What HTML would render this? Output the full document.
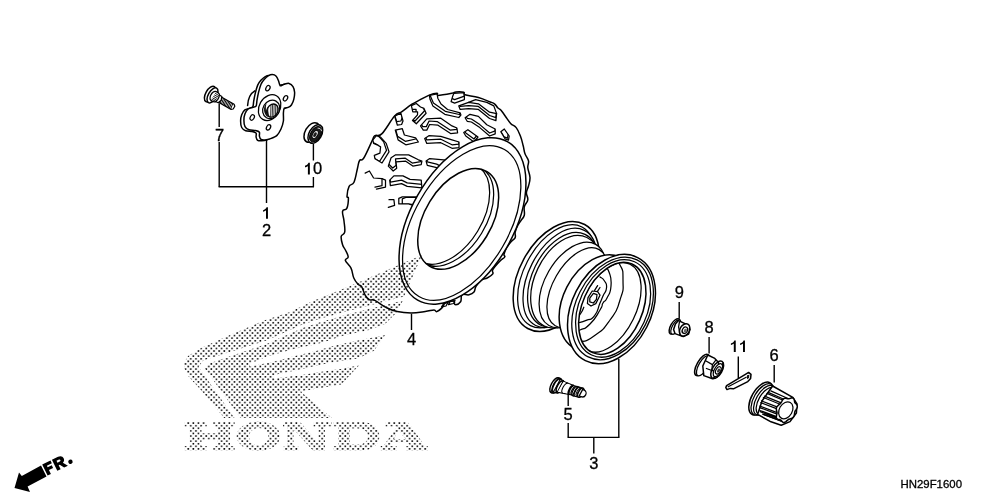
<!DOCTYPE html>
<html><head><meta charset="utf-8"><title>Front Wheel</title>
<style>
html,body{margin:0;padding:0;background:#fff;}
body{width:1000px;height:500px;overflow:hidden;font-family:"Liberation Sans",sans-serif;}
svg{display:block}
.s{fill:none;stroke:#000;stroke-width:1.5;stroke-linejoin:round;stroke-linecap:round}
.w{fill:#fff;stroke:#000;stroke-width:1.5;stroke-linejoin:round;stroke-linecap:round}
.t{fill:none;stroke:#000;stroke-width:1.25;stroke-linejoin:round;stroke-linecap:round}
.wt{fill:#fff;stroke:#000;stroke-width:1.25;stroke-linejoin:round;stroke-linecap:round}
.h{fill:none;stroke:#000;stroke-width:0.8;stroke-linejoin:round;stroke-linecap:round}
.k{fill:#111;stroke:#000;stroke-width:1}
.ld{fill:none;stroke:#000;stroke-width:1.4}
text{font-family:"Liberation Sans",sans-serif;fill:#000}
.n{font-size:16.5px;text-anchor:middle;stroke:#000;stroke-width:0.3px}
</style></head><body>
<svg width="1000" height="500" viewBox="0 0 1000 500" style="will-change:transform;transform:translateZ(0)">
<defs>
<pattern id="dots" width="5.15" height="5.15" patternUnits="userSpaceOnUse">
<circle cx="0.25" cy="3.4" r="0.88"/><circle cx="5.4" cy="3.4" r="0.88"/><circle cx="2.83" cy="0.83" r="0.88"/><circle cx="2.83" cy="5.98" r="0.88"/>
</pattern>
</defs>
<rect width="1000" height="500" fill="#fff"/>

<g id="tire">
<path class="w" d="M372.2,140.6 C374.4,136.1 373.0,137.1 375.0,135.7 C377.0,134.3 378.1,137.5 382.0,133.6 C385.9,129.7 390.7,120.4 394.6,116.1 C398.5,111.8 398.4,114.1 401.6,111.9 C404.8,109.7 407.7,107.1 410.5,105.2 C413.3,103.3 411.8,104.4 415.4,102.4 C419.0,100.4 424.4,97.2 428.7,95.4 C433.0,93.6 435.2,93.3 437.0,93.3 C438.8,93.3 434.8,95.4 437.8,95.4 C440.8,95.4 448.2,94.0 451.8,93.3 C455.4,92.6 453.6,92.1 456.0,91.9 C458.4,91.7 461.9,91.7 463.7,92.3 C465.5,92.9 462.1,93.7 465.0,94.7 C467.9,95.7 473.5,96.1 478.4,97.5 C483.3,98.9 486.4,100.4 489.6,101.7 C492.8,103.0 492.8,102.5 494.5,103.8 C496.2,105.1 496.7,106.8 498.0,108.0 C499.3,109.2 499.4,108.5 500.8,110.0 C502.2,111.5 503.0,113.0 505.0,115.7 C507.0,118.4 508.4,121.0 510.6,123.4 C512.8,125.8 514.2,125.1 516.2,127.6 C518.2,130.1 519.0,132.4 520.4,136.0 C521.8,139.6 522.3,142.2 523.2,145.8 C524.1,149.4 523.9,150.8 525.0,153.8 C526.1,156.8 527.9,158.0 528.5,160.8 C529.1,163.6 527.5,164.4 527.8,167.8 C528.1,171.2 529.9,174.0 530.0,177.6 C530.1,181.2 529.2,183.0 528.5,186.0 C527.8,189.0 526.5,190.0 526.4,192.8 C526.3,195.6 528.2,197.0 527.8,199.8 C527.4,202.6 525.0,203.7 524.3,206.8 C523.6,209.9 525.0,212.4 524.3,215.2 C523.6,218.0 522.1,218.8 520.8,220.8 C519.5,222.8 519.1,222.8 518.0,225.0 C516.9,227.2 515.8,229.5 515.2,232.0 C514.6,234.5 516.0,235.6 515.2,237.6 C514.4,239.6 512.7,239.8 511.0,241.8 C509.3,243.8 508.2,244.9 506.8,247.4 C505.4,249.9 504.4,252.5 504.0,254.4 C503.6,256.3 505.5,255.6 504.7,257.0 C503.9,258.4 502.2,258.7 499.8,261.2 C497.4,263.7 494.2,267.1 492.8,269.6 C491.4,272.1 493.9,272.1 492.8,273.8 C491.7,275.5 489.4,276.8 487.2,278.0 C485.0,279.2 483.8,278.3 481.6,280.0 C479.4,281.7 477.5,284.0 476.0,286.4 C474.5,288.8 475.4,290.3 474.0,292.0 C472.6,293.7 471.4,294.2 469.0,294.8 C466.6,295.4 463.7,293.4 462.0,294.8 C460.3,296.2 462.0,299.8 460.6,301.8 C459.2,303.8 456.4,304.8 455.0,304.6 C453.6,304.4 455.6,301.3 453.6,301.0 C451.6,300.7 447.4,301.9 445.2,303.2 C443.0,304.5 444.1,305.7 442.4,307.4 C440.7,309.1 438.5,311.1 436.8,311.6 C435.1,312.1 436.3,310.0 434.0,310.0 C431.7,310.0 429.8,311.0 425.2,311.6 C420.6,312.2 416.8,313.0 411.2,313.0 C405.6,313.0 402.2,312.7 397.2,311.6 C392.2,310.5 390.5,309.6 386.0,307.4 C381.5,305.2 378.2,301.9 374.8,300.4 C371.4,298.9 371.2,300.8 369.2,299.7 C367.2,298.6 366.5,297.5 365.0,294.8 C363.5,292.1 362.9,288.5 361.5,286.4 C360.1,284.3 359.5,286.0 358.0,284.3 C356.5,282.6 355.2,281.2 353.8,278.0 C352.4,274.8 352.7,271.7 351.0,268.2 C349.3,264.7 346.0,262.7 345.4,260.5 C344.8,258.3 348.2,259.1 348.2,257.0 C348.2,254.9 346.5,252.4 345.4,250.0 C344.3,247.6 343.4,247.5 342.6,244.8 C341.8,242.1 340.8,238.9 341.2,236.4 C341.6,233.9 344.1,235.3 344.7,232.2 C345.3,229.1 344.4,225.2 344.0,221.0 C343.6,216.8 342.0,213.7 342.6,211.2 C343.2,208.7 345.6,211.0 346.8,208.4 C348.0,205.8 348.4,200.7 348.4,198.3 C348.4,195.9 346.9,198.6 347.0,196.2 C347.1,193.8 347.7,189.2 349.1,186.4 C350.5,183.6 352.3,185.8 354.0,182.2 C355.7,178.6 356.4,172.5 357.5,168.2 C358.6,163.9 358.3,162.5 359.6,160.5 C360.9,158.5 361.3,162.0 363.8,158.0 C366.3,154.0 370.0,145.1 372.2,140.6Z"/>
<clipPath id="lc0"><path d="M394.6,116.1 L400.9,113.3 L403.0,121.0 L401.6,124.5 L397.4,125.2Z"/></clipPath>
<path class="wt" d="M394.6,116.1 L400.9,113.3 L403.0,121.0 L401.6,124.5 L397.4,125.2Z"/>
<g clip-path="url(#lc0)"><path class="t" d="M394.6,116.1 L400.9,113.3 L403.0,121.0 L401.6,124.5 L397.4,125.2Z" transform="translate(-0.7 -3.5)"/></g>
<clipPath id="lc1"><path d="M411.4,105.6 L416.3,103.5 L420.5,107.0 L424.0,108.4 L426.1,113.3 L416.3,123.8 L412.5,120.5 L417.5,114.8 L417.6,111.9 L412.8,111.9Z"/></clipPath>
<path class="wt" d="M411.4,105.6 L416.3,103.5 L420.5,107.0 L424.0,108.4 L426.1,113.3 L416.3,123.8 L412.5,120.5 L417.5,114.8 L417.6,111.9 L412.8,111.9Z"/>
<g clip-path="url(#lc1)"><path class="t" d="M411.4,105.6 L416.3,103.5 L420.5,107.0 L424.0,108.4 L426.1,113.3 L416.3,123.8 L412.5,120.5 L417.5,114.8 L417.6,111.9 L412.8,111.9Z" transform="translate(-1.5 -2.5)"/></g>
<clipPath id="lc2"><path d="M395.3,130.1 L402.3,128.7 L404.4,135.0 L415.6,137.8 L418.4,142.0 L405.8,144.8 L398.1,139.9Z"/></clipPath>
<path class="wt" d="M395.3,130.1 L402.3,128.7 L404.4,135.0 L415.6,137.8 L418.4,142.0 L405.8,144.8 L398.1,139.9Z"/>
<g clip-path="url(#lc2)"><path class="t" d="M395.3,130.1 L402.3,128.7 L404.4,135.0 L415.6,137.8 L418.4,142.0 L405.8,144.8 L398.1,139.9Z" transform="translate(-0.5 -3.5)"/></g>
<clipPath id="lc3"><path d="M420.5,125.9 L426.8,118.9 L440.8,118.2 L452.0,125.9 L456.9,128.0 L457.6,132.9 L450.6,133.6 L438.0,125.2 L429.6,124.5 L426.8,130.1 L423.3,130.1Z"/></clipPath>
<path class="wt" d="M420.5,125.9 L426.8,118.9 L440.8,118.2 L452.0,125.9 L456.9,128.0 L457.6,132.9 L450.6,133.6 L438.0,125.2 L429.6,124.5 L426.8,130.1 L423.3,130.1Z"/>
<g clip-path="url(#lc3)"><path class="t" d="M420.5,125.9 L426.8,118.9 L440.8,118.2 L452.0,125.9 L456.9,128.0 L457.6,132.9 L450.6,133.6 L438.0,125.2 L429.6,124.5 L426.8,130.1 L423.3,130.1Z" transform="translate(-0.5 -3.5)"/></g>
<clipPath id="lc4"><path d="M424.7,138.5 L428.9,135.7 L440.8,136.4 L452.0,139.9 L459.0,142.0 L459.0,147.6 L452.0,148.3 L440.8,142.7 L426.8,143.4Z"/></clipPath>
<path class="wt" d="M424.7,138.5 L428.9,135.7 L440.8,136.4 L452.0,139.9 L459.0,142.0 L459.0,147.6 L452.0,148.3 L440.8,142.7 L426.8,143.4Z"/>
<g clip-path="url(#lc4)"><path class="t" d="M424.7,138.5 L428.9,135.7 L440.8,136.4 L452.0,139.9 L459.0,142.0 L459.0,147.6 L452.0,148.3 L440.8,142.7 L426.8,143.4Z" transform="translate(0 -3.5)"/></g>
<clipPath id="lc5"><path d="M372.9,139.9 L376.4,135.7 L380.6,137.1 L386.2,143.4 L389.0,151.8 L382.0,163.0 L375.0,158.8 L374.3,155.3 L379.9,153.2 L380.6,146.9 L377.1,144.8 L373.6,143.4Z"/></clipPath>
<path class="wt" d="M372.9,139.9 L376.4,135.7 L380.6,137.1 L386.2,143.4 L389.0,151.8 L382.0,163.0 L375.0,158.8 L374.3,155.3 L379.9,153.2 L380.6,146.9 L377.1,144.8 L373.6,143.4Z"/>
<g clip-path="url(#lc5)"><path class="t" d="M372.9,139.9 L376.4,135.7 L380.6,137.1 L386.2,143.4 L389.0,151.8 L382.0,163.0 L375.0,158.8 L374.3,155.3 L379.9,153.2 L380.6,146.9 L377.1,144.8 L373.6,143.4Z" transform="translate(-2.5 -1.5)"/></g>
<clipPath id="lc6"><path d="M388.3,166.1 L391.1,157.7 L395.3,154.9 L408.6,154.9 L418.4,159.8 L421.9,161.2 L421.2,164.7 L412.8,166.1 L405.8,161.2 L396.0,161.9 L396.7,168.2 L393.2,171.0Z"/></clipPath>
<path class="wt" d="M388.3,166.1 L391.1,157.7 L395.3,154.9 L408.6,154.9 L418.4,159.8 L421.9,161.2 L421.2,164.7 L412.8,166.1 L405.8,161.2 L396.0,161.9 L396.7,168.2 L393.2,171.0Z"/>
<g clip-path="url(#lc6)"><path class="t" d="M388.3,166.1 L391.1,157.7 L395.3,154.9 L408.6,154.9 L418.4,159.8 L421.9,161.2 L421.2,164.7 L412.8,166.1 L405.8,161.2 L396.0,161.9 L396.7,168.2 L393.2,171.0Z" transform="translate(-0.5 -3)"/></g>
<clipPath id="lc7"><path d="M426.1,161.0 L429.7,158.6 L446.4,160.2 L452.0,163.0 L445.0,172.0 L436.7,167.6 L427.3,165.3Z"/></clipPath>
<path class="wt" d="M426.1,161.0 L429.7,158.6 L446.4,160.2 L452.0,163.0 L445.0,172.0 L436.7,167.6 L427.3,165.3Z"/>
<g clip-path="url(#lc7)"><path class="t" d="M426.1,161.0 L429.7,158.6 L446.4,160.2 L452.0,163.0 L445.0,172.0 L436.7,167.6 L427.3,165.3Z" transform="translate(0 -3.5)"/></g>
<clipPath id="lc8"><path d="M389.7,180.1 L393.9,175.9 L403.0,175.9 L410.0,179.4 L421.2,180.1 L421.9,187.8 L407.2,186.4 L401.6,183.6 L390.4,185.7Z"/></clipPath>
<path class="wt" d="M389.7,180.1 L393.9,175.9 L403.0,175.9 L410.0,179.4 L421.2,180.1 L421.9,187.8 L407.2,186.4 L401.6,183.6 L390.4,185.7Z"/>
<g clip-path="url(#lc8)"><path class="t" d="M389.7,180.1 L393.9,175.9 L403.0,175.9 L410.0,179.4 L421.2,180.1 L421.9,187.8 L407.2,186.4 L401.6,183.6 L390.4,185.7Z" transform="translate(0 -3.5)"/></g>
<clipPath id="lc9"><path d="M429.4,95.4 L437.1,94.0 L437.8,98.2 L441.0,104.0 L447.6,109.5 L460.2,112.9 L460.9,115.0 L458.8,117.5 L444.8,114.3 L432.9,105.9 L430.1,99.6Z"/></clipPath>
<path class="wt" d="M429.4,95.4 L437.1,94.0 L437.8,98.2 L441.0,104.0 L447.6,109.5 L460.2,112.9 L460.9,115.0 L458.8,117.5 L444.8,114.3 L432.9,105.9 L430.1,99.6Z"/>
<g clip-path="url(#lc9)"><path class="t" d="M429.4,95.4 L437.1,94.0 L437.8,98.2 L441.0,104.0 L447.6,109.5 L460.2,112.9 L460.9,115.0 L458.8,117.5 L444.8,114.3 L432.9,105.9 L430.1,99.6Z" transform="translate(0.5 -3)"/></g>
<clipPath id="lc10"><path d="M452.5,96.8 L453.9,93.3 L463.7,92.6 L464.4,96.1 L464.4,99.6 L454.6,103.1 L451.1,101.7Z"/></clipPath>
<path class="wt" d="M452.5,96.8 L453.9,93.3 L463.7,92.6 L464.4,96.1 L464.4,99.6 L454.6,103.1 L451.1,101.7Z"/>
<g clip-path="url(#lc10)"><path class="t" d="M452.5,96.8 L453.9,93.3 L463.7,92.6 L464.4,96.1 L464.4,99.6 L454.6,103.1 L451.1,101.7Z" transform="translate(0 -3.5)"/></g>
<clipPath id="lc11"><path d="M458.8,105.9 L468.6,102.4 L478.4,103.8 L489.6,112.2 L496.6,113.6 L495.9,120.6 L489.6,118.5 L478.4,109.4 L468.6,108.7 L460.2,109.4Z"/></clipPath>
<path class="wt" d="M458.8,105.9 L468.6,102.4 L478.4,103.8 L489.6,112.2 L496.6,113.6 L495.9,120.6 L489.6,118.5 L478.4,109.4 L468.6,108.7 L460.2,109.4Z"/>
<g clip-path="url(#lc11)"><path class="t" d="M458.8,105.9 L468.6,102.4 L478.4,103.8 L489.6,112.2 L496.6,113.6 L495.9,120.6 L489.6,118.5 L478.4,109.4 L468.6,108.7 L460.2,109.4Z" transform="translate(0 -3)"/></g>
<clipPath id="lc12"><path d="M465.1,117.8 L470.0,114.3 L478.4,116.4 L486.8,124.8 L495.2,129.0 L495.2,133.9 L489.6,136.0 L479.8,127.6 L471.4,122.0 L467.2,121.3Z"/></clipPath>
<path class="wt" d="M465.1,117.8 L470.0,114.3 L478.4,116.4 L486.8,124.8 L495.2,129.0 L495.2,133.9 L489.6,136.0 L479.8,127.6 L471.4,122.0 L467.2,121.3Z"/>
<g clip-path="url(#lc12)"><path class="t" d="M465.1,117.8 L470.0,114.3 L478.4,116.4 L486.8,124.8 L495.2,129.0 L495.2,133.9 L489.6,136.0 L479.8,127.6 L471.4,122.0 L467.2,121.3Z" transform="translate(0 -3)"/></g>
<clipPath id="lc13"><path d="M463.7,132.5 L467.9,129.7 L478.0,137.0 L474.0,142.0 L465.8,136.0Z"/></clipPath>
<path class="wt" d="M463.7,132.5 L467.9,129.7 L478.0,137.0 L474.0,142.0 L465.8,136.0Z"/>
<g clip-path="url(#lc13)"><path class="t" d="M463.7,132.5 L467.9,129.7 L478.0,137.0 L474.0,142.0 L465.8,136.0Z" transform="translate(0 -3)"/></g>
<clipPath id="lc14"><path d="M500.8,131.8 L504.3,129.0 L509.2,136.0 L508.5,140.2 L505.0,138.8Z"/></clipPath>
<path class="wt" d="M500.8,131.8 L504.3,129.0 L509.2,136.0 L508.5,140.2 L505.0,138.8Z"/>
<g clip-path="url(#lc14)"><path class="t" d="M500.8,131.8 L504.3,129.0 L509.2,136.0 L508.5,140.2 L505.0,138.8Z" transform="translate(-1 -2)"/></g>
<clipPath id="lc15"><path d="M398.8,198.3 L402.3,196.9 L417.0,196.9 L414.0,205.6 L408.6,203.9 L398.8,203.9Z"/></clipPath>
<path class="wt" d="M398.8,198.3 L402.3,196.9 L417.0,196.9 L414.0,205.6 L408.6,203.9 L398.8,203.9Z"/>
<g clip-path="url(#lc15)"><path class="t" d="M398.8,198.3 L402.3,196.9 L417.0,196.9 L414.0,205.6 L408.6,203.9 L398.8,203.9Z" transform="translate(3.5 0.5)"/></g>
<path class="t" d="M365.2,173.1 L369.4,171.0 L373.6,178.0 L382.0,178.7 L385.5,180.1 L385.5,187.1 L376.4,189.2"/>
<path class="t" d="M382.0,178.7 L382.0,185.7 L375.0,187.1"/>
<path class="t" d="M389.0,199.7 L393.9,199.7 L394.6,205.3 L388.3,207.4"/>
<path class="t" d="M468.6,102.4 L475.6,99.6 L486.8,102.4 L493.8,105.9 L496.6,113.6"/>
<ellipse cx="462.5" cy="220.9" rx="91.1" ry="51.6" transform="rotate(-60.5 462.5 220.9)" class="w"/>
<ellipse cx="461.7" cy="223.0" rx="85.0" ry="47.3" transform="rotate(-59.8 461.7 223.0)" class="t"/>
<ellipse cx="458.2" cy="218.9" rx="55.3" ry="33.3" transform="rotate(-58.6 458.2 218.9)" class="w"/>
<clipPath id="beadc"><ellipse cx="458.2" cy="218.9" rx="55.3" ry="33.3" transform="rotate(-58.6 458.2 218.9)" /></clipPath>
<g clip-path="url(#beadc)"><ellipse cx="453.2" cy="215.9" rx="55.3" ry="33.3" transform="rotate(-58.6 453.2 215.9)" class="t"/><ellipse cx="449.2" cy="213.9" rx="55.3" ry="33.3" transform="rotate(-58.6 449.2 213.9)" class="t"/></g>
<path class="t" d="M441.6,306.8 L444.0,303.0 L448.0,302.5 L446.0,306.0Z"/>
<path class="t" d="M448.5,304.6 L450.0,301.6 L455.0,300.5 L453.6,303.5Z"/>
</g>
<g id="rim">
<ellipse cx="556.2" cy="276.5" rx="59.3" ry="36.8" transform="rotate(-61.3 556.2 276.5)" class="w"/>
<ellipse cx="556.2" cy="276.3" rx="55.6" ry="32.4" transform="rotate(-62.4 556.2 276.3)" class="wt"/>
<ellipse cx="560.0" cy="277.9" rx="53.4" ry="31.3" transform="rotate(-62.9 560.0 277.9)" class="wt"/>
<ellipse cx="563.0" cy="279.8" rx="50.5" ry="30.8" transform="rotate(-64.1 563.0 279.8)" class="wt"/>
<ellipse cx="565.6" cy="281.7" rx="49.1" ry="30.7" transform="rotate(-64.3 565.6 281.7)" class="wt"/>
<ellipse cx="572.3" cy="284.9" rx="46.8" ry="27.2" transform="rotate(-60 572.3 284.9)" class="wt"/>
<ellipse cx="577.2" cy="287.7" rx="44" ry="24" transform="rotate(-60 577.2 287.7)" class="wt"/>
<ellipse cx="598.0" cy="303.0" rx="51.0" ry="35.0" transform="rotate(-63 598.0 303.0)" class="w"/>
<ellipse cx="611.5" cy="309.1" rx="57.8" ry="39.6" transform="rotate(-63.1 611.5 309.1)" class="w"/>
<ellipse cx="612.6" cy="308.4" rx="54.3" ry="36.6" transform="rotate(-63.3 612.6 308.4)" class="t"/>
<ellipse cx="613.1" cy="308.4" rx="51.3" ry="33.9" transform="rotate(-65.3 613.1 308.4)" class="t"/>
<ellipse cx="612.3" cy="308.3" rx="48.5" ry="29.9" transform="rotate(-66.1 612.3 308.3)" class="w"/>
<clipPath id="rimc"><ellipse cx="612.3" cy="308.3" rx="48.5" ry="29.9" transform="rotate(-66.1 612.3 308.3)" /></clipPath>
<g clip-path="url(#rimc)">
<ellipse cx="609.0" cy="307.4" rx="48.0" ry="27.0" transform="rotate(-64 609.0 307.4)" class="t"/>
<path class="t" d="M614.0,262.0 C616.0,263.0 617.0,259.0 620.0,265.0 C623.0,271.0 623.0,268.3 623.0,280.0 C623.0,291.7 624.3,286.7 620.0,300.0 C615.7,313.3 618.7,308.0 610.0,320.0 C601.3,332.0 604.0,328.7 594.0,336.0 C584.0,343.3 588.0,339.7 580.0,342.0 C572.0,344.3 573.3,342.7 570.0,343.0"/>
<path class="t" d="M605.0,268.0 C606.3,269.3 607.0,266.0 609.0,272.0 C611.0,278.0 611.7,277.3 611.0,286.0 C610.3,294.7 609.7,292.3 607.0,298.0 C604.3,303.7 605.3,299.0 603.0,303.0 C600.7,307.0 604.3,303.0 600.0,310.0 C595.7,317.0 596.7,317.3 590.0,324.0 C583.3,330.7 586.0,327.3 580.0,330.0 C574.0,332.7 574.7,331.3 572.0,332.0"/>
<path class="t" d="M600.0,277.0 C601.5,278.3 602.3,277.3 604.5,281.0 C606.7,284.7 607.0,283.0 606.5,288.0 C606.0,293.0 605.2,291.0 603.0,296.0 C600.8,301.0 602.8,296.5 600.0,303.0 C597.2,309.5 599.2,309.8 594.6,315.6 C590.0,321.4 591.7,317.9 586.2,320.4 C580.7,322.9 580.7,322.1 578.0,323.0"/>
<path class="t" d="M583.8,307.2 C582.9,309.1 583.3,309.4 581.0,313.0 C578.7,316.6 578.3,316.3 577.0,318.0"/>
<path class="wt" d="M588.0,297.6 L592.2,291.0 L597.6,291.6 L600.0,295.2 L595.8,303.6 L591.0,306.0 L587.4,303.6Z"/>
<path class="t" d="M589.8,298.2 L593.4,293.4 L597.0,294.6 L596.4,299.4 L593.4,303.0 L589.8,301.8Z"/>
<path class="t" d="M594.6,290.4 L597.6,285.6"/>
<path class="t" d="M597.6,291.2 L600.0,287.5"/>
</g>
</g>
<g id="hub">
<path class="w" d="M254.8,90.8 C251.0,93.0 248.0,98.5 247.6,105.5"/>
<path class="w" d="M268.9,75.5 C270.0,75.5 272.0,76.2 272.9,77.1 C273.8,78.0 274.8,80.6 275.3,81.9 C275.8,83.2 276.2,86.3 276.9,86.7 C277.6,87.1 279.7,85.4 280.9,85.1 C282.1,84.8 284.5,84.0 285.7,84.3 C286.9,84.6 289.0,86.3 289.7,87.5 C290.4,88.7 291.2,91.4 291.3,93.1 C291.4,94.8 290.9,98.6 290.5,100.3 C290.1,102.0 288.8,104.8 288.1,105.9 C287.4,107.0 285.9,107.9 284.9,108.3 C283.9,108.7 281.5,108.4 280.9,109.1 C280.3,109.8 280.2,112.2 280.1,113.9 C280.0,115.6 280.4,119.8 280.1,121.9 C279.8,124.0 278.6,128.0 277.7,129.9 C276.8,131.8 275.1,135.0 273.7,136.3 C272.3,137.6 268.9,138.9 267.3,139.5 C265.7,140.1 263.0,140.7 261.7,140.8 C260.4,140.9 258.4,140.8 257.7,140.3 C257.0,139.8 256.3,138.1 256.1,137.1 C255.9,136.1 256.6,133.8 256.1,133.1 C255.6,132.4 253.5,131.8 252.1,131.5 C250.7,131.2 247.1,131.2 245.7,130.7 C244.3,130.2 242.4,128.8 241.7,127.5 C241.0,126.2 240.6,122.8 240.6,121.1 C240.6,119.4 241.1,116.2 241.7,114.7 C242.3,113.2 243.8,110.8 244.9,109.9 C246.0,109.0 248.6,108.7 249.7,108.3 C250.8,107.9 252.4,107.7 252.9,106.7 C253.4,105.7 253.4,102.9 253.7,101.1 C254.0,99.3 254.8,95.2 255.3,93.1 C255.8,91.0 257.0,86.8 257.7,85.1 C258.4,83.4 259.9,81.4 260.9,80.3 C261.9,79.2 263.8,77.4 264.9,76.8 C266.0,76.2 267.8,75.5 268.9,75.5Z"/>
<path class="w" d="M272.2,74.6 C273.3,74.6 275.3,75.3 276.2,76.2 C277.1,77.1 278.1,79.7 278.6,81.0 C279.1,82.3 279.5,85.4 280.2,85.8 C280.9,86.2 283.0,84.5 284.2,84.2 C285.4,83.9 287.8,83.1 289.0,83.4 C290.2,83.7 292.3,85.4 293.0,86.6 C293.7,87.8 294.5,90.5 294.6,92.2 C294.7,93.9 294.2,97.7 293.8,99.4 C293.4,101.1 292.1,103.9 291.4,105.0 C290.7,106.1 289.2,107.0 288.2,107.4 C287.2,107.8 284.8,107.5 284.2,108.2 C283.6,108.9 283.5,111.3 283.4,113.0 C283.3,114.7 283.7,118.9 283.4,121.0 C283.1,123.1 281.9,127.1 281.0,129.0 C280.1,130.9 278.4,134.1 277.0,135.4 C275.6,136.7 272.2,138.0 270.6,138.6 C269.0,139.2 266.3,139.8 265.0,139.9 C263.7,140.0 261.7,139.9 261.0,139.4 C260.3,138.9 259.6,137.2 259.4,136.2 C259.2,135.2 259.9,132.9 259.4,132.2 C258.9,131.5 256.8,130.9 255.4,130.6 C254.0,130.3 250.4,130.3 249.0,129.8 C247.6,129.3 245.7,127.9 245.0,126.6 C244.3,125.3 243.9,121.9 243.9,120.2 C243.9,118.5 244.4,115.3 245.0,113.8 C245.6,112.3 247.1,109.9 248.2,109.0 C249.3,108.1 251.9,107.8 253.0,107.4 C254.1,107.0 255.7,106.8 256.2,105.8 C256.7,104.8 256.7,102.0 257.0,100.2 C257.3,98.4 258.1,94.3 258.6,92.2 C259.1,90.1 260.3,85.9 261.0,84.2 C261.7,82.5 263.2,80.5 264.2,79.4 C265.2,78.3 267.1,76.5 268.2,75.9 C269.3,75.3 271.1,74.6 272.2,74.6Z"/>
<ellipse cx="267.9" cy="88.2" rx="2.9" ry="1.9" transform="rotate(-60 267.9 88.2)" class="wt"/>
<ellipse cx="285.5" cy="98.3" rx="2.9" ry="1.9" transform="rotate(-60 285.5 98.3)" class="wt"/>
<ellipse cx="252.2" cy="117.5" rx="2.9" ry="1.9" transform="rotate(-60 252.2 117.5)" class="wt"/>
<ellipse cx="268.5" cy="127.4" rx="2.9" ry="1.9" transform="rotate(-60 268.5 127.4)" class="wt"/>
<ellipse cx="269.6" cy="107.6" rx="13.6" ry="10.4" transform="rotate(-60 269.6 107.6)" class="wt"/>
<ellipse cx="271.2" cy="109.4" rx="9.6" ry="8.2" transform="rotate(-60 271.2 109.4)" class="wt"/>
<path d="M266.6,103.0 C262.5,107 263.5,114.5 268.2,117.6 C265.6,113 265.2,107.5 266.6,103.0Z" fill="#111"/>
<ellipse cx="272.4" cy="110.6" rx="6.9" ry="5.4" transform="rotate(-60 272.4 110.6)" fill="#fff" stroke="#000" stroke-width="1.3"/>
<clipPath id="splc"><ellipse cx="272.4" cy="110.6" rx="6.9" ry="5.4" transform="rotate(-60 272.4 110.6)" /></clipPath><g clip-path="url(#splc)">
<path d="M266,104 L269.4,104 C267.6,108 267.8,113.5 270.2,118 L266,118 Z" fill="#111"/>
<line x1="271.0" y1="103" x2="270.6" y2="118" stroke="#000" stroke-width="0.8"/>
<line x1="272.59999999999997" y1="103" x2="272.2" y2="118" stroke="#000" stroke-width="0.8"/>
<line x1="274.2" y1="103" x2="273.8" y2="118" stroke="#000" stroke-width="0.8"/>
<line x1="275.79999999999995" y1="103" x2="275.4" y2="118" stroke="#000" stroke-width="0.8"/>
<line x1="277.4" y1="103" x2="277.0" y2="118" stroke="#000" stroke-width="0.8"/>
</g>
</g>
<g id="bolt">
<path class="wt" d="M219.2,95.8 L234.1,104.2 L234.8,106.2 L233.2,109.0 L231.1,109.4 L216.2,101.0Z"/>
<line x1="222.3" y1="97.5" x2="220.1" y2="103.2" stroke="#000" stroke-width="1.0"/>
<line x1="223.6" y1="98.3" x2="221.5" y2="103.9" stroke="#000" stroke-width="1.0"/>
<line x1="224.9" y1="99.0" x2="222.8" y2="104.7" stroke="#000" stroke-width="1.0"/>
<line x1="226.2" y1="99.8" x2="224.1" y2="105.4" stroke="#000" stroke-width="1.0"/>
<line x1="227.5" y1="100.5" x2="225.4" y2="106.2" stroke="#000" stroke-width="1.0"/>
<line x1="228.9" y1="101.2" x2="226.7" y2="106.9" stroke="#000" stroke-width="1.0"/>
<line x1="230.2" y1="102.0" x2="228.0" y2="107.6" stroke="#000" stroke-width="1.0"/>
<line x1="231.5" y1="102.7" x2="229.3" y2="108.4" stroke="#000" stroke-width="1.0"/>
<line x1="232.8" y1="103.5" x2="230.6" y2="109.1" stroke="#000" stroke-width="1.0"/>
<ellipse cx="210.2" cy="94.1" rx="8.7" ry="4.5" transform="rotate(-60.4 210.2 94.1)" class="w"/>
<ellipse cx="212.5" cy="95.4" rx="8.3" ry="4.2" transform="rotate(-60.4 212.5 95.4)" class="w"/>
<path class="wt" d="M217.9,94.0 L221.8,96.5 L221.2,100.3 L218.2,102.8 L214.1,100.8Z"/>
<path class="wt" d="M215.4,91.4 C216.9,91.7 218.1,92.6 219.0,93.7 C219.9,94.8 219.3,95.1 219.1,96.3 C218.9,97.4 218.8,97.6 218.2,98.7 C217.7,99.7 217.6,99.9 216.7,100.6 C215.7,101.4 215.8,102.0 214.4,101.9 C212.9,101.7 211.6,101.1 210.6,100.0 C209.6,98.8 210.1,98.2 210.2,97.0 C210.3,95.7 210.5,95.6 211.1,94.6 C211.7,93.6 211.7,93.4 212.7,92.6 C213.7,91.9 214.0,91.2 215.4,91.4Z"/>
<line x1="215.1" y1="93.2" x2="218.8" y2="95.6" stroke="#000" stroke-width="0.9"/>
<line x1="214.2" y1="94.8" x2="218.0" y2="97.0" stroke="#000" stroke-width="0.9"/>
<line x1="213.3" y1="96.3" x2="217.2" y2="98.5" stroke="#000" stroke-width="0.9"/>
<line x1="212.5" y1="97.9" x2="216.4" y2="99.9" stroke="#000" stroke-width="0.9"/>
<line x1="211.7" y1="99.3" x2="215.6" y2="101.2" stroke="#000" stroke-width="0.9"/>
</g>
<g id="bearing">
<ellipse cx="311.8" cy="132.5" rx="10.7" ry="6.6" transform="rotate(-60 311.8 132.5)" class="w"/>
<ellipse cx="315.3" cy="134.0" rx="10.1" ry="6.2" transform="rotate(-60 315.3 134.0)" class="w"/>
<ellipse cx="315.6" cy="134.2" rx="8.5" ry="5.0" transform="rotate(-60 315.6 134.2)" fill="#1a1a1a" stroke="#000" stroke-width="1"/>
<ellipse cx="315.2" cy="134.5" rx="4.4" ry="2.5" transform="rotate(-60 315.2 134.5)" fill="#ddd" stroke="#000" stroke-width="0.9"/>
<ellipse cx="315.0" cy="134.7" rx="2.6" ry="1.4" transform="rotate(-60 315.0 134.7)" fill="#1a1a1a" stroke="none"/>
<path d="M317.6,128.2 C319.6,128.0 321.4,129.0 321.6,131.2" fill="none" stroke="#fff" stroke-width="0.8"/>
</g>
<g id="nut9">
<ellipse cx="674.6" cy="326.4" rx="8.6" ry="3.9" transform="rotate(-60 674.6 326.4)" class="w"/>
<ellipse cx="675.8" cy="327.0" rx="8.1" ry="3.5" transform="rotate(-60 675.8 327.0)" class="wt"/>
<path class="w" d="M678.4,320.6 L687.2,324.6 L690.0,329.4 L688.6,334.0 L683.2,336.6 L675.0,333.6 L673.6,329.6 L675.4,324.0Z"/>
<ellipse cx="684.6" cy="329.9" rx="6.6" ry="4.7" transform="rotate(-60 684.6 329.9)" class="w"/>
<ellipse cx="684.9" cy="330.2" rx="3.4" ry="2.5" transform="rotate(-60 684.9 330.2)" class="wt"/>
<ellipse cx="685.3" cy="330.5" rx="1.9" ry="1.4" transform="rotate(-60 685.3 330.5)" fill="#666" stroke="none"/>
<path class="t" d="M679.4,322.2 L678.6,327.0 L680.2,335.0"/>
</g>
<g id="nut8">
<ellipse cx="702.0" cy="365.0" rx="12.0" ry="5.0" transform="rotate(-60 702.0 365.0)" class="w"/>
<ellipse cx="703.4" cy="365.7" rx="11.4" ry="4.6" transform="rotate(-60 703.4 365.7)" class="wt"/>
<path class="w" d="M707.8,355.0 L714.8,358.4 L719.5,363.5 L717.0,377.0 L712.6,378.8 L703.8,375.6 L702.8,366.0Z"/>
<path class="t" d="M705.6,360.8 L712.4,364.6 L711.2,376.0"/>
<path class="t" d="M712.4,364.6 L715.6,360.4"/>
<path class="t" d="M706.4,368.5 L711.9,370.5"/>
<ellipse cx="717.2" cy="369.8" rx="9.7" ry="4.9" transform="rotate(-60 717.2 369.8)" class="w"/>
<ellipse cx="717.9" cy="370.2" rx="7.2" ry="3.5" transform="rotate(-60 717.9 370.2)" class="wt"/>
<ellipse cx="718.3" cy="370.4" rx="4.0" ry="2.3" transform="rotate(-60 718.3 370.4)" class="wt"/>
<ellipse cx="718.6" cy="370.6" rx="2.2" ry="1.3" transform="rotate(-60 718.6 370.6)" fill="#333" stroke="none"/>
<line x1="722.3" y1="364.9" x2="723.2" y2="362.7" stroke="#000" stroke-width="1.6"/>
<line x1="720.6" y1="372.5" x2="721.0" y2="373.0" stroke="#000" stroke-width="1.6"/>
<line x1="714.9" y1="376.6" x2="713.2" y2="378.5" stroke="#000" stroke-width="1.6"/>
<line x1="713.8" y1="370.7" x2="711.6" y2="370.4" stroke="#000" stroke-width="1.6"/>
<line x1="718.7" y1="364.3" x2="718.2" y2="361.8" stroke="#000" stroke-width="1.6"/>
</g>
<g id="pin">
<path class="w" d="M725.8,387.6 L726.6,385.6 L745.4,374.4 L748.6,372.4 L751.0,374.4 L750.6,378.4 L747.8,381.6 L733.4,388.8 L730.2,388.4 L727.0,389.6Z"/>
<path class="t" d="M728.2,386.8 L746.2,377.2"/>
<path d="M747.0,375.2 L749.4,374.8 L749.0,378.0 L747.0,379.2Z" fill="#111"/>
</g>
<g id="cap">
<ellipse cx="761.0" cy="398.6" rx="18.2" ry="9.4" transform="rotate(-60 761.0 398.6)" class="w"/>
<ellipse cx="762.6" cy="399.4" rx="17.4" ry="8.8" transform="rotate(-60 762.6 399.4)" class="wt"/>
<ellipse cx="764.4" cy="400.3" rx="16.4" ry="8.2" transform="rotate(-60 764.4 400.3)" class="wt"/>
<ellipse cx="766.2" cy="401.2" rx="15.2" ry="7.6" transform="rotate(-60 766.2 401.2)" class="wt"/>
<path class="w" d="M772.6,386.0 L792.8,397.4 L797.0,404.0 L796.4,413.0 L790.0,421.6 L781.2,425.2 L771.0,421.8 L757.6,414.4 L762.0,401.0Z"/>
<line class="t" x1="760.2" y1="411.7" x2="777.7" y2="418.1"/>
<line class="t" x1="759.9" y1="410.5" x2="777.1" y2="416.9"/>
<line class="t" x1="759.7" y1="407.6" x2="776.5" y2="413.8"/>
<line class="t" x1="759.8" y1="406.1" x2="776.5" y2="412.3"/>
<line class="t" x1="760.8" y1="402.6" x2="777.1" y2="408.8"/>
<line class="t" x1="761.5" y1="400.9" x2="777.6" y2="407.2"/>
<line class="t" x1="763.4" y1="397.5" x2="779.4" y2="404.0"/>
<line class="t" x1="764.5" y1="396.1" x2="780.5" y2="402.7"/>
<line class="t" x1="767.0" y1="393.4" x2="783.1" y2="400.3"/>
<line class="t" x1="768.2" y1="392.4" x2="784.4" y2="399.5"/>
<line class="t" x1="770.8" y1="390.9" x2="787.4" y2="398.3"/>
<line class="t" x1="763.5" y1="414.3" x2="782.1" y2="421.3"/>
<line class="t" x1="762.6" y1="414.1" x2="780.9" y2="420.9"/>
<line class="t" x1="767.1" y1="413.6" x2="786.3" y2="421.0"/>
<line class="t" x1="765.9" y1="414.0" x2="784.9" y2="421.4"/>
<path class="w" d="M793.2,398.1 L793.9,398.9 L794.3,400.0 L794.5,401.2 L794.7,402.3 L795.2,403.1 L796.0,403.8 L796.7,404.6 L797.2,405.7 L797.3,406.9 L796.8,408.3 L796.1,409.6 L795.3,410.7 L794.8,411.9 L794.6,413.1 L794.4,414.4 L794.0,415.8 L793.4,417.1 L792.4,418.0 L791.2,418.6 L790.0,418.9 L788.9,419.2 L788.0,419.8 L787.0,420.6 L786.0,421.6 L784.8,422.3 L783.7,422.5 L782.7,422.1 L781.9,421.3 L781.3,420.5 L780.6,419.9 L779.7,419.6 L778.6,419.4 L777.6,419.2 L776.7,418.5 L776.3,417.4 L776.4,416.1 L776.7,414.7 L777.0,413.4 L777.0,412.3 L776.7,411.2 L776.4,410.0 L776.3,408.7 L776.6,407.4 L777.4,406.2 L778.4,405.2 L779.5,404.4 L780.4,403.5 L781.1,402.5 L781.8,401.3 L782.5,400.0 L783.5,398.9 L784.6,398.3 L785.7,398.3 L786.8,398.5 L787.8,398.8 L788.7,398.8 L789.8,398.5 L790.9,398.1 L792.1,397.8Z"/>
<ellipse cx="785.8" cy="410.3" rx="9.0" ry="6.5" transform="rotate(-60 785.8 410.3)" class="wt"/>
</g>
<g id="valve">
<ellipse cx="554.8" cy="385.2" rx="8.2" ry="3.61" transform="rotate(-62 554.8 385.2)" class="w"/>
<path class="w" d="M558.6,378.0 L560.7,378.7 L553.2,392.9 L551.0,392.4Z"/>
<path fill="#fff" stroke="none" d="M559.2,378.5 L560.4,379.3 L552.7,392.3 L551.5,391.9Z"/>
<ellipse cx="556.9" cy="385.8" rx="8.0" ry="3.52" transform="rotate(-62 556.9 385.8)" class="w"/>
<ellipse cx="556.9" cy="385.8" rx="6.9" ry="3.04" transform="rotate(-62 556.9 385.8)" class="wt"/>
<path class="wt" d="M560.1,379.7 L563.4,380.7 L556.9,392.9 L553.7,391.9Z"/>
<path fill="#fff" stroke="none" d="M560.7,380.2 L563.1,381.3 L556.4,392.3 L554.2,391.4Z"/>
<ellipse cx="560.2" cy="386.8" rx="6.9" ry="3.04" transform="rotate(-62 560.2 386.8)" class="wt"/>
<ellipse cx="560.2" cy="386.8" rx="6.2" ry="2.73" transform="rotate(-62 560.2 386.8)" class="wt"/>
<path class="wt" d="M563.1,381.3 L576.2,386.6 L571.8,394.9 L557.3,392.2Z"/>
<path fill="#fff" stroke="none" d="M563.7,381.8 L575.9,387.2 L571.3,394.3 L557.8,391.7Z"/>
<ellipse cx="574.0" cy="390.8" rx="4.7" ry="2.07" transform="rotate(-62 574.0 390.8)" class="wt"/>
<path fill="none" stroke="#000" stroke-width="1.1" d="M568.0,383.3 A5.6,2.46 -62 0 0 562.7,393.2"/>
<path fill="none" stroke="#000" stroke-width="2.2" d="M573.7,385.7 A4.95,2.18 -62 0 0 569.1,394.4"/>
<ellipse cx="575.2" cy="391.1" rx="5.1" ry="2.24" transform="rotate(-62 575.2 391.1)" class="wt"/>
<path class="wt" d="M577.5,386.6 L583.3,388.4 L578.6,397.2 L572.8,395.6Z"/>
<path fill="#fff" stroke="none" d="M578.1,387.1 L583.0,389.0 L578.1,396.6 L573.3,395.1Z"/>
<path fill="none" stroke="#000" stroke-width="1.0" d="M578.8,387.1 A5.0,2.20 -62 0 0 574.2,395.9"/>
<path fill="none" stroke="#000" stroke-width="1.0" d="M580.0,387.4 A5.0,2.20 -62 0 0 575.3,396.3"/>
<path fill="none" stroke="#000" stroke-width="1.0" d="M581.1,387.8 A5.0,2.20 -62 0 0 576.5,396.6"/>
<path fill="none" stroke="#000" stroke-width="1.0" d="M582.3,388.1 A5.0,2.20 -62 0 0 577.6,396.9"/>
<path fill="none" stroke="#000" stroke-width="1.0" d="M583.4,388.4 A5.0,2.20 -62 0 0 578.8,397.3"/>
<ellipse cx="580.9" cy="392.8" rx="5.0" ry="2.4" transform="rotate(-62 580.9 392.8)" class="wt"/>
<path class="wt" d="M582.7,389.4 L584.3,390.1 A3.6,3.4 -62 0 1 581.0,396.5 L579.1,396.1 Z"/>
</g>
<g id="leaders" class="ld">
<line x1="219.2" y1="103.5" x2="219.2" y2="127"/>
<line x1="219.2" y1="142" x2="219.2" y2="186.8"/>
<line x1="218.6" y1="186.8" x2="314" y2="186.8"/>
<line x1="313.4" y1="144" x2="313.4" y2="160.5"/>
<line x1="313.4" y1="177" x2="313.4" y2="186.8"/>
<line x1="266.5" y1="139.8" x2="266.5" y2="203"/>
<line x1="411.5" y1="313.8" x2="411.5" y2="330"/>
<line x1="568.2" y1="393.5" x2="568.2" y2="406"/>
<line x1="568.2" y1="423" x2="568.2" y2="437.4"/>
<line x1="567.6" y1="437.4" x2="619.4" y2="437.4"/>
<line x1="618.8" y1="359" x2="618.8" y2="437.4"/>
<line x1="593.8" y1="437.4" x2="593.8" y2="453.5"/>
<line x1="679.2" y1="302" x2="679.2" y2="318.8"/>
<line x1="709.1" y1="337" x2="709.1" y2="353.5"/>
<line x1="738.3" y1="356.5" x2="738.3" y2="378"/>
<line x1="774.2" y1="365" x2="774.2" y2="382.5"/>
</g>
<text class="n" x="219.60" y="140.7">7</text>
<path d="M309.85,174.4 L309.85,162.8 L308.45,162.8 C308.10,164.20000000000002 306.40,165.4 305.00,165.8 L305.00,167.3 C306.30,167.0 307.40,166.5 307.90,165.9 L307.90,174.4 Z" fill="#000"/>
<text class="n" x="317.60" y="174.4">0</text>
<path d="M267.95,218.8 L267.95,207.20000000000002 L266.55,207.20000000000002 C266.20,208.60000000000002 264.50,209.8 263.10,210.20000000000002 L263.10,211.70000000000002 C264.40,211.4 265.50,210.9 266.00,210.3 L266.00,218.8 Z" fill="#000"/>
<text class="n" x="266.50" y="235.7">2</text>
<text class="n" x="411.50" y="345.3">4</text>
<text class="n" x="568.00" y="420.4">5</text>
<text class="n" x="593.80" y="469">3</text>
<text class="n" x="679.40" y="298.2">9</text>
<text class="n" x="709.00" y="332.6">8</text>
<path d="M735.75,352 L735.75,340.4 L734.35,340.4 C734.00,341.8 732.30,343.0 730.90,343.4 L730.90,344.9 C732.20,344.6 733.30,344.1 733.80,343.5 L733.80,352 Z" fill="#000"/>
<path d="M744.95,352 L744.95,340.4 L743.55,340.4 C743.20,341.8 741.50,343.0 740.10,343.4 L740.10,344.9 C741.40,344.6 742.50,344.1 743.00,343.5 L743.00,352 Z" fill="#000"/>
<text class="n" x="774.20" y="361">6</text>
<text x="900.5" y="487.6" font-size="11.8" textLength="61.5" lengthAdjust="spacingAndGlyphs" stroke="#000" stroke-width="0.3">HN29F1600</text>
<g id="fr">
<path d="M14.5,488.0 L19.0,472.5 L21.8,476.0 L41.0,465.5 L46.5,476.5 L27.6,486.6 L30.0,492.0Z" fill="#000"/>
<g transform="translate(47.6,475.6) rotate(-26)" fill="#000">
<path d="M0,0 L0,-12.3 L9.2,-12.3 L9.2,-9.2 L3.7,-9.2 L3.7,-7.5 L8.3,-7.5 L8.3,-4.5 L3.7,-4.5 L3.7,0 Z"/>
<path fill-rule="evenodd" d="M10.8,0 L10.8,-12.3 L17.6,-12.3 C20.6,-12.3 22.0,-10.6 22.0,-8.5 C22.0,-6.6 21.0,-5.4 19.4,-4.9 L22.6,0 L18.4,0 L15.7,-4.5 L14.5,-4.5 L14.5,0 Z M14.5,-9.4 L14.5,-7.3 L16.7,-7.3 C17.8,-7.3 18.3,-7.7 18.3,-8.4 C18.3,-9.0 17.8,-9.4 16.7,-9.4 Z"/>
<circle cx="26.6" cy="-2.4" r="2.2"/>
</g>
</g>
<clipPath id="wm">
<path d="M422.0,255.0 L350.0,286.0 L314.0,300.5 L290.0,312.0 L264.0,320.5 L230.0,335.0 L200.0,348.5 L188.0,356.0 L184.0,363.0 L184.0,368.0 L189.0,377.0 L200.0,389.0 L221.0,414.0 L224.0,418.0 L234.5,418.0 L198.5,367.0 L203.0,360.5 L267.0,340.3 L302.0,324.8 L320.0,318.8 L350.0,310.4 L404.0,296.5Z"/><path d="M204.5,368.0 L209.0,363.6 L267.0,343.8 L302.0,328.2 L320.0,322.2 L350.0,313.8 L403.0,300.5 L396.0,313.0 L385.0,324.0 L369.0,330.0 L344.0,335.6 L320.0,343.3 L292.0,349.6 L267.0,356.6 L250.0,363.5 L250.0,366.5 L274.0,361.5 L295.0,356.0 L316.0,351.0 L330.0,346.8 L358.0,340.5 L385.4,335.0 L374.0,350.7 L358.0,358.6 L330.0,362.8 L302.0,369.0 L274.0,375.0 L274.0,378.6 L302.0,374.9 L323.0,371.4 L344.0,368.6 L359.4,365.0 L341.2,384.6 L316.0,388.8 L300.6,391.6 L332.0,418.0 L240.5,418.0Z"/>
<rect x="184.5" y="422" width="22.2" height="4.5"/><rect x="213.2" y="422" width="21.4" height="4.5"/><rect x="184.5" y="446" width="22.2" height="4.5"/><rect x="213.2" y="446" width="21.4" height="4.5"/><rect x="189.8" y="422" width="11.7" height="28.5"/><rect x="217.7" y="422" width="12.3" height="28.5"/><rect x="201" y="433.2" width="17.0" height="6.5"/>
<path fill-rule="evenodd" clip-rule="evenodd" d="M236.6,436.2 a21.8,14.8 0 1,0 43.6,0 a21.8,14.8 0 1,0 -43.6,0 Z M249,436.8 a9.7,8.8 0 1,1 19.4,0 a9.7,8.8 0 1,1 -19.4,0 Z"/>
<rect x="283" y="422" width="14.0" height="4.5"/><rect x="287" y="422" width="6.5" height="28.5"/><rect x="283.8" y="446" width="14.4" height="4.5"/><rect x="318.5" y="422" width="6.5" height="28.5"/><rect x="313.4" y="422" width="18.4" height="4.5"/>
<path d="M287.0,422.0 L300.0,422.0 L325.0,450.5 L313.0,450.5Z"/>
<rect x="333.4" y="422" width="14.6" height="4.5"/><rect x="338" y="422" width="9.5" height="28.5"/><rect x="333.4" y="446" width="14.6" height="4.5"/>
<path clip-rule="evenodd" d="M347,422 L360,422 C373,422 379.4,428 379.4,436.2 C379.4,444.5 373,450.5 360,450.5 L347,450.5 Z M350,428.6 L350,444.6 L358,444.6 C364.5,444.6 367.8,441.5 367.8,436.6 C367.8,431.7 364.5,428.6 358,428.6 Z"/>
<path clip-rule="evenodd" d="M385.4,422 L407.8,422 L425,446 L427.8,446 L427.8,450.5 L406.2,450.5 L406.2,446 L410.5,446 L408,443 L392,443 L389.5,446 L396.6,446 L396.6,450.5 L380.6,450.5 L380.6,446 L383.5,446 L397,426.5 L385.4,426.5 Z M398.6,430.5 L394,439 L405.6,439 Z"/>
</clipPath>
<rect x="180" y="250" width="260" height="205" fill="url(#dots)" clip-path="url(#wm)"/>
</svg></body></html>
